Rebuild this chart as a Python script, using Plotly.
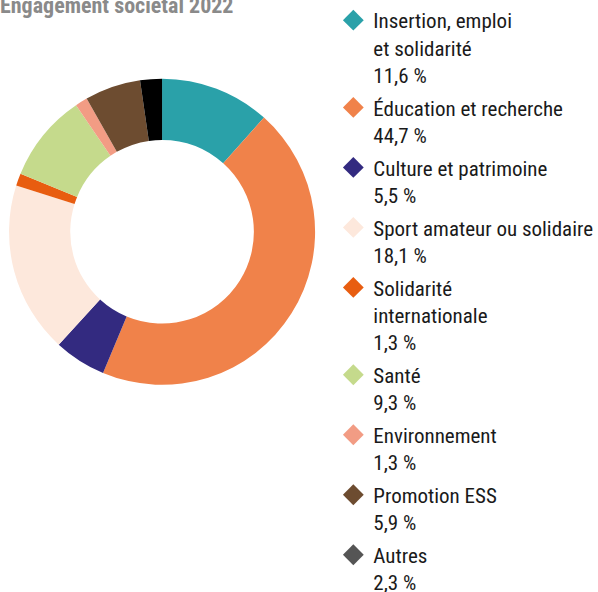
import plotly.graph_objects as go

title = "Engagement sociétal 2022"
categories = [
    "Insertion, emploi<br>et solidarité",
    "Éducation et recherche",
    "Culture et patrimoine",
    "Sport amateur ou solidaire",
    "Solidarité<br>internationale",
    "Santé",
    "Environnement",
    "Promotion ESS",
    "Autres",
]
values = [11.6, 44.7, 5.5, 18.1, 1.3, 9.3, 1.3, 5.9, 2.3]
slice_colors = ["#2aa1a9", "#f0824a", "#332a80", "#fde8dc", "#e85d10",
                "#c5da8c", "#f29c84", "#6d4c30", "#000000"]
legend_colors = slice_colors[:-1] + ["#555555"]

FONT = "Liberation Sans Narrow, Roboto Condensed, Arial Narrow, sans-serif"

fig = go.Figure()
fig.add_trace(go.Pie(
    labels=categories, values=values, sort=False, direction="clockwise",
    rotation=0, hole=0.6, marker=dict(colors=slice_colors, line=dict(width=0)),
    textinfo="none", hoverinfo="label+value", showlegend=False,
    domain=dict(x=[0.015, 0.527], y=[0.35, 0.867]),
))

for i, (cat, v, c) in enumerate(zip(categories, values, legend_colors)):
    label = f"{v:.1f}".replace(".", ",") + " %"
    fig.add_trace(go.Scatter(
        x=[None], y=[None], mode="markers", name=f"{cat}<br>{label}",
        legendgroup=f"g{i}",
        marker=dict(symbol="diamond", size=16, color=c),
    ))

fig.update_layout(
    width=598, height=592,
    margin=dict(l=0, r=0, t=0, b=0, autoexpand=False),
    paper_bgcolor="white", plot_bgcolor="white",
    xaxis=dict(visible=False), yaxis=dict(visible=False),
    legend=dict(x=0.5574, y=1.0, xanchor="left", yanchor="top",
                valign="top", font=dict(family=FONT, size=21, color="#1a1a1a"),
                bgcolor="rgba(0,0,0,0)", tracegroupgap=2.4),
    annotations=[dict(text=f"<b>{title}</b>", x=0, y=1, xref="paper", yref="paper",
                      xanchor="left", yanchor="top", showarrow=False, xshift=-2, yshift=9,
                      font=dict(family=FONT, size=22, color="#8a8a8a"))],
)

fig.write_html("out.html", config={"displayModeBar": False},
               post_script="document.body.style.margin='0';")
